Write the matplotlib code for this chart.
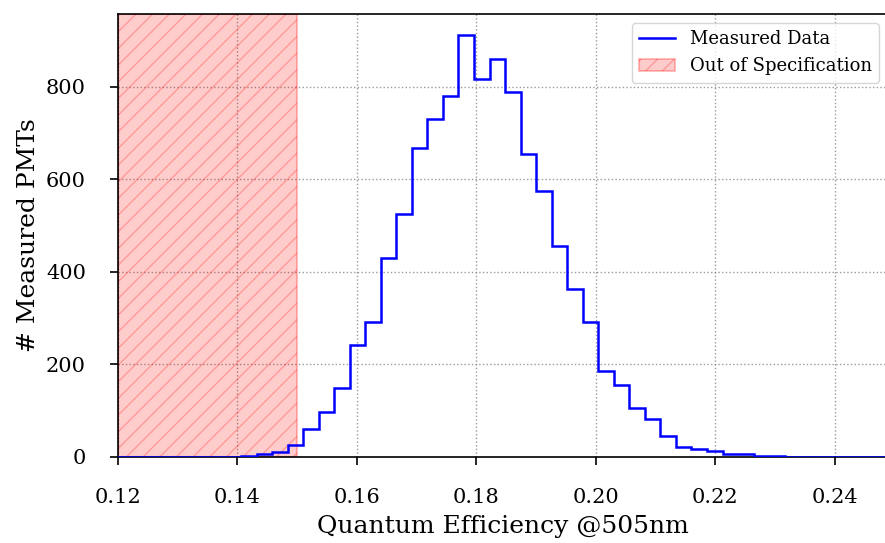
"""Histogram of PMT quantum efficiency with the out-of-spec region shaded."""

import matplotlib

matplotlib.use("Agg")
import matplotlib.pyplot as plt
import numpy as np

# bin edges of the histogram (50 bins, width 0.0026)
bin_edges = np.linspace(0.1198, 0.2498, 51)

# number of PMTs per bin
pmt_counts = [
    0, 1, 0, 0, 0, 1, 0, 1, 2, 7,
    10, 27, 60, 97, 150, 242, 292, 430, 525, 669,
    731, 780, 912, 818, 860, 788, 654, 576, 456, 363,
    292, 186, 156, 106, 83, 45, 22, 17, 12, 6,
    6, 3, 2, 0, 1, 0, 0, 0, 0, 0,
]

spec_limit = [0.12, 0.15]
x_ticks = [0.12, 0.14, 0.16, 0.18, 0.20, 0.22, 0.24]
y_ticks = [0, 200, 400, 600, 800]

plt.rcParams["font.family"] = ["DejaVu Serif"]

fig = plt.figure(figsize=(8.85, 5.43), dpi=100)
# axes runs a few pixels past the right border, as in the (cropped) original
ax = fig.add_axes([118 / 885, 1 - 457 / 543, 770 / 885, (457 - 14) / 543])

ax.axvspan(
    spec_limit[0],
    spec_limit[1],
    facecolor=(1, 0, 0, 0.2),
    edgecolor=(1, 0, 0, 0.25),
    hatch="//",
    linewidth=1.5,
    label="Out of Specification",
    zorder=1,
)
ax.stairs(pmt_counts, bin_edges, color="blue", linewidth=1.8,
          label="Measured Data", zorder=3)

ax.set_xlim(0.12, 0.2489)
ax.set_ylim(0, max(pmt_counts) * 1.05)
ax.set_xticks(x_ticks)
ax.set_xticklabels([f"{t:.2f}" for t in x_ticks])
ax.set_yticks(y_ticks)

ax.grid(True, linestyle=":", color="gray", linewidth=1, alpha=0.8)
ax.set_axisbelow(True)
ax.tick_params(labelsize=15, length=6, width=1.2)
ax.tick_params(axis="x", pad=16)
ax.tick_params(axis="y", pad=17)
for spine in ax.spines.values():
    spine.set_linewidth(1.2)

ax.set_xlabel("Quantum Efficiency @505nm", fontsize=18, labelpad=6)
ax.set_ylabel("# Measured PMTs", fontsize=18)

handles, labels = ax.get_legend_handles_labels()
ax.legend(handles[::-1], labels[::-1], loc="upper right", fontsize=13)

fig.savefig("out.png", dpi=100)
